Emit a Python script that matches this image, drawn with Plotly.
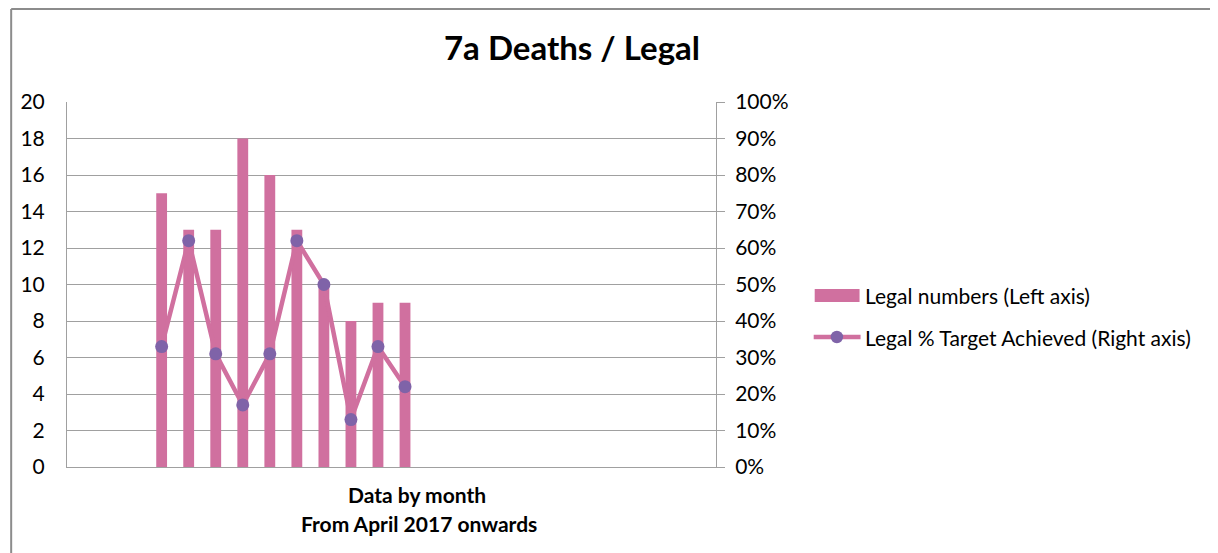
import plotly.graph_objects as go

# ---- data ----
month_index = list(range(24))  # 24 monthly slots from April 2017
legal_numbers = [None, None, None, 15, 13, 13, 18, 16, 13, 10, 8, 9, 9] + [None] * 11
legal_pct = [None, None, None, 0.33, 0.62, 0.31, 0.17, 0.31, 0.62, 0.50, 0.13, 0.33, 0.22] + [None] * 11
left_ticks = list(range(0, 21, 2))
right_ticks = [i / 10 for i in range(11)]
bar_name = "Legal numbers (Left axis)"
line_name = "Legal % Target Achieved (Right axis)"

# page body has an 8px margin; work in reference pixel coords and shift
OFF = 8
W, H = 1218 - OFF, 553 - OFF
PL, PR, PT, PB = 65, 716, 102, 467  # plot area in reference pixels
L, T = PL - OFF, PT - OFF
R, B = W - (PR - OFF), H - (PB - OFF)
pw, ph = PR - PL, PB - PT

def px(xr):
    return (xr - PL) / pw

def py(yr):
    return (PB - yr) / ph

FONT = "Lato"
FS = 21
PINK = "#D0709F"
PURPLE = "#7F63A8"
GRID = "#A0A0A0"
BORDER = "#8C8C8C"

fig = go.Figure()
fig.add_trace(go.Bar(
    x=month_index, y=legal_numbers, name=bar_name,
    marker=dict(color=PINK, line=dict(width=0)), width=0.4, yaxis="y",
))
fig.add_trace(go.Scatter(
    x=month_index, y=legal_pct, name=line_name,
    mode="lines+markers", line=dict(color=PINK, width=4.5),
    marker=dict(color=PURPLE, size=13), yaxis="y2", connectgaps=False,
))

shapes = [
    # chart border (top & left edges visible)
    dict(type="line", xref="paper", yref="paper", x0=px(9), x1=px(1230),
         y0=py(9), y1=py(9), line=dict(color=BORDER, width=2)),
    dict(type="line", xref="paper", yref="paper", x0=px(9), x1=px(9),
         y0=py(9), y1=py(570), line=dict(color=BORDER, width=2)),
    # legend swatches
    dict(type="rect", xref="paper", yref="paper", x0=px(815), x1=px(860),
         y0=py(302), y1=py(289), fillcolor=PINK, line=dict(width=0)),
    dict(type="line", xref="paper", yref="paper", x0=px(814), x1=px(861),
         y0=py(337), y1=py(337), line=dict(color=PINK, width=4.5)),
    dict(type="circle", xref="paper", yref="paper", x0=px(831), x1=px(843.5),
         y0=py(343.2), y1=py(330.8), fillcolor=PURPLE, line=dict(width=0)),
]

annotations = [
    dict(text="<b>Data by month</b>", xref="paper", yref="paper",
         x=px(416), y=py(495), xanchor="center", yanchor="middle",
         showarrow=False, font=dict(family=FONT, size=FS)),
    dict(text="<b>From April 2017 onwards</b>", xref="paper", yref="paper",
         x=px(418), y=py(523), xanchor="center", yanchor="middle",
         showarrow=False, font=dict(family=FONT, size=FS)),
    dict(text=bar_name, xref="paper", yref="paper",
         x=px(863), y=py(295), xanchor="left", yanchor="middle",
         showarrow=False, font=dict(family=FONT, size=FS)),
    dict(text=line_name, xref="paper", yref="paper",
         x=px(863), y=py(337), xanchor="left", yanchor="middle",
         showarrow=False, font=dict(family=FONT, size=FS)),
]

fig.update_layout(
    width=W, height=H,
    margin=dict(l=L, r=R, t=T, b=B, pad=0),
    paper_bgcolor="white", plot_bgcolor="white",
    font=dict(family=FONT, size=FS, color="#000000"),
    title=dict(text="<b>7a Deaths / Legal</b>", x=(572 - OFF) / W, xanchor="center",
               y=1 - (48 - OFF) / H, yanchor="middle", yref="container",
               font=dict(family=FONT, size=33, color="#000000")),
    xaxis=dict(range=[-0.5, 23.5], showticklabels=False, showgrid=False,
               zeroline=False, showline=True, linecolor=GRID, linewidth=1,
               ticks=""),
    yaxis=dict(range=[0, 20], tickvals=left_ticks, showgrid=True, gridcolor=GRID,
               gridwidth=1, zeroline=False, showline=True, linecolor=GRID,
               linewidth=1, ticks="", ticklabelstandoff=17),
    yaxis2=dict(range=[0, 1], tickvals=right_ticks, tickformat=".0%", overlaying="y",
                side="right", showgrid=False, zeroline=False, showline=True,
                linecolor=GRID, linewidth=1, ticks="outside", ticklen=8,
                tickcolor=GRID, ticklabelstandoff=6),
    showlegend=False,
    shapes=shapes,
    annotations=annotations,
)

fig.write_html("out.html")
